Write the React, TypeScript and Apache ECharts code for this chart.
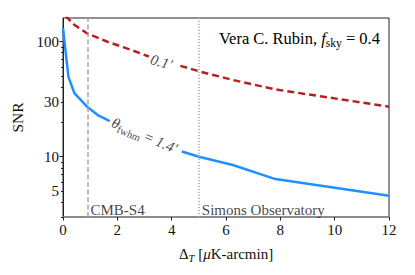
import React, { useEffect, useRef } from "react";
import * as echarts from "echarts";

// ---- data ----
const xTickValues = [0, 2, 4, 6, 8, 10, 12];
const yLabelValues = [5, 10, 30, 100];
const yMajorTicks = [10, 100];
const yMinorTicks = [3, 4, 5, 6, 7, 8, 9, 20, 30, 40, 50, 60, 70, 80, 90];

// theta_fwhm = 1.4' (blue, solid); split where the inline label sits
const blueHead = [
  [0, 131],
  [0.2, 49.3],
  [0.42, 35.6],
  [0.9, 27.0],
  [1.28, 23.0],
  [1.72, 20.4],
];
const blueTail = [
  [4.37, 11.1],
  [5.04, 9.94],
  [6.25, 8.47],
  [7.82, 6.4],
  [12, 4.58],
];
// theta_fwhm = 0.1' (red, dashed)
const redHead = [
  [0.1, 166],
  [0.41, 140],
  [0.88, 118],
  [1.61, 100],
  [2.5, 84.7],
  [3.16, 74.1],
];
const redTail = [
  [4.32, 61.5],
  [5.05, 54.8],
  [6.25, 46.4],
  [7.82, 38.4],
  [12, 27.2],
];

const experiments = ["CMB-S4", "Simons Observatory"];
const experimentNoise = [0.9, 5];

const blueLabelPos = [3.0, 15.3];
const redLabelPos = [3.62, 66.5];

const FONT = "Liberation Serif";

function makeRich(size: number) {
  return {
    r: { fontFamily: FONT, fontSize: size, color: "#111", lineHeight: 20, verticalAlign: "middle" },
    i: { fontFamily: FONT, fontSize: size, fontStyle: "italic", color: "#111", lineHeight: 20, verticalAlign: "middle" },
    s: { fontFamily: FONT, fontSize: size * 0.7, color: "#111", verticalAlign: "bottom" },
    si: { fontFamily: FONT, fontSize: size * 0.7, fontStyle: "italic", color: "#111", verticalAlign: "bottom" },
  };
}

export default function App() {
  const ref = useRef<HTMLDivElement>(null);
  useEffect(() => {
    document.body.style.margin = "0";
    const chart = echarts.init(ref.current!, null, { renderer: "svg" });
    const baseRich = makeRich(15);
    const boxRich = makeRich(16.5);
    const option: any = {
      animation: false,
      textStyle: { fontFamily: FONT },
      grid: {
        left: 63,
        top: 18,
        width: 326,
        height: 199,
        show: true,
        borderColor: "#222",
        borderWidth: 1,
        containLabel: false,
      },
      xAxis: {
        type: "value",
        min: 0,
        max: 12,
        interval: 2,
        name: "{r|Δ}{si|T}{r| [}{i|μ}{r|K-arcmin]}",
        nameLocation: "middle",
        nameGap: 27,
        nameTextStyle: { rich: baseRich },
        axisLine: { show: true, lineStyle: { color: "#8a8a8a", width: 1.5 } },
        axisTick: { show: true, length: 3.5, lineStyle: { color: "#222" }, customValues: xTickValues },
        axisLabel: { color: "#111", fontSize: 15, margin: 5, fontFamily: FONT, customValues: xTickValues },
        splitLine: { show: false },
      },
      yAxis: [
        {
          type: "log",
          logBase: 10,
          min: 3,
          max: 160,
          name: "SNR",
          nameLocation: "middle",
          nameGap: 30,
          nameTextStyle: { fontFamily: FONT, fontSize: 15.5, color: "#111" },
          axisLine: { show: true, lineStyle: { color: "#222", width: 1 } },
          axisTick: { show: true, length: 3.5, lineStyle: { color: "#222" }, customValues: yMajorTicks },
          axisLabel: { color: "#111", fontSize: 15, margin: 4, fontFamily: FONT, customValues: yLabelValues },
          splitLine: { show: false },
        },
        {
          type: "log",
          logBase: 10,
          min: 3,
          max: 160,
          position: "left",
          offset: 0,
          axisLine: { show: false },
          axisTick: { show: true, length: 2, lineStyle: { color: "#222" }, customValues: yMinorTicks },
          axisLabel: { show: false },
          splitLine: { show: false },
        },
      ],
      series: [
        {
          type: "line",
          data: [],
          silent: true,
          markLine: {
            symbol: ["none", "none"],
            silent: true,
            label: { show: false },
            data: [
              { xAxis: experimentNoise[0], lineStyle: { type: [5, 2.5], color: "#a8a8a8", width: 1.5 } },
              { xAxis: experimentNoise[1], lineStyle: { type: [1.3, 1.7], color: "#a8a8a8", width: 1.5 } },
            ],
          },
        },
        {
          type: "line",
          data: blueHead,
          showSymbol: false,
          lineStyle: { color: "#1e90ff", width: 2.5 },
        },
        {
          type: "line",
          data: blueTail,
          showSymbol: false,
          lineStyle: { color: "#1e90ff", width: 2.5 },
        },
        {
          type: "line",
          data: redHead,
          showSymbol: false,
          lineStyle: { color: "#b22222", width: 2.5, type: [7, 4] },
        },
        {
          type: "line",
          data: redTail,
          showSymbol: false,
          lineStyle: { color: "#b22222", width: 2.5, type: [7, 4] },
        },
        {
          type: "scatter",
          symbolSize: 0,
          silent: true,
          data: experimentNoise.map((x, k) => ({ value: [x, 3], name: experiments[k] })),
          label: {
            show: true,
            position: "right",
            distance: 3,
            verticalAlign: "bottom",
            offset: [0, 0],
            formatter: (p: any) => p.name,
            fontFamily: FONT,
            fontSize: 15,
            color: "#111",
          },
        },
        {
          type: "scatter",
          symbolSize: 0,
          silent: true,
          data: [
            {
              value: blueLabelPos,
              label: { rotate: -23, formatter: "{i|θ}{s|fwhm}{r| = }{i|1.4′}" },
            },
            {
              value: redLabelPos,
              label: { rotate: -16, formatter: "{i|0.1′}" },
            },
          ],
          label: {
            show: true,
            position: "inside",
            align: "center",
            verticalAlign: "middle",
            rich: baseRich,
          },
        },
      ],
      graphic: [
        {
          type: "text",
          right: 35,
          top: 30,
          style: {
            text: "{r|Vera C. Rubin, }{i|f}{s|sky}{r| = 0.4}",
            rich: boxRich,
          },
        },
      ],
    };
    chart.setOption(option);
    return () => chart.dispose();
  }, []);
  return <div ref={ref} style={{ width: 415, height: 275 }} />;
}
